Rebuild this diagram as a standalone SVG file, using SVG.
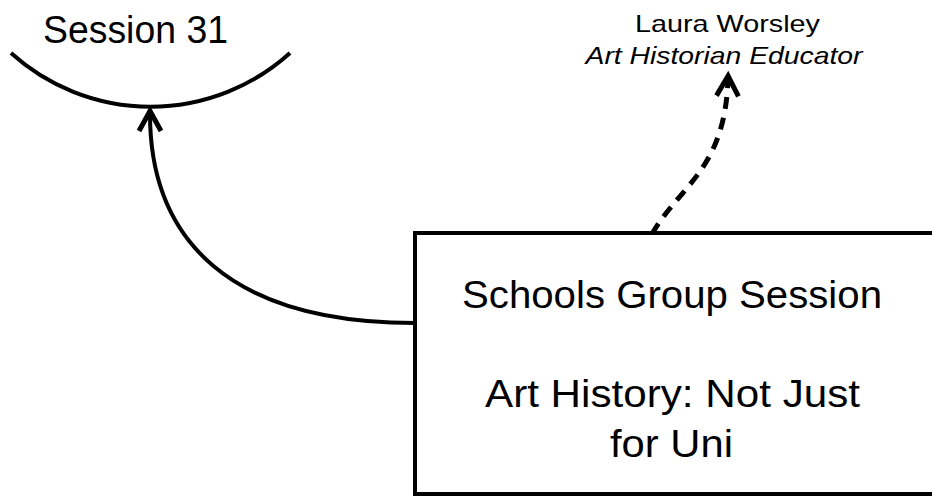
<svg xmlns="http://www.w3.org/2000/svg" width="932" height="496" viewBox="0 0 932 496">
  <style>
    .lbl { font-family: "Liberation Sans", Arial, sans-serif; fill: #000; text-anchor: middle; }
    .big { font-size: 39px; }
    .small { font-size: 24px; }
    .it { font-style: italic; }
    .edge { fill: none; stroke: #000; stroke-width: 4; }
    .dash { stroke-width: 5; stroke-dasharray: 12 9; }
    .box { fill: #fff; stroke: #000; stroke-width: 4; }
  </style>
  <defs>
    <marker id="chevron" markerUnits="userSpaceOnUse" markerWidth="40" markerHeight="40" viewBox="-30 -20 40 40" refX="-3" refY="0" orient="auto" overflow="visible">
      <path d="M-20,-11 L0,0 L-20,11" fill="none" stroke="#000" stroke-width="5" stroke-linejoin="miter"/>
    </marker>
  </defs>

  <!-- Session 31: open arc node -->
  <g id="session31">
    <path class="edge" d="M11,53 A208,208 0 0 0 290,53"/>
    <text class="lbl big" x="135.5" y="43" textLength="185" lengthAdjust="spacingAndGlyphs">Session 31</text>
  </g>

  <!-- Presenter label node -->
  <g id="laura">
    <text class="lbl small" x="727.5" y="31.5" textLength="185" lengthAdjust="spacingAndGlyphs">Laura Worsley</text>
    <text class="lbl small it" x="724" y="64" textLength="277" lengthAdjust="spacingAndGlyphs">Art Historian Educator</text>
  </g>

  <!-- Schools group session box -->
  <g id="schools">
    <rect class="box" x="415" y="233" width="600" height="261"/>
    <text class="lbl big" x="672" y="308" textLength="420" lengthAdjust="spacingAndGlyphs">Schools Group Session</text>
    <text class="lbl big" x="672.5" y="407" textLength="375" lengthAdjust="spacingAndGlyphs">Art History: Not Just</text>
    <text class="lbl big" x="671.5" y="457" textLength="123" lengthAdjust="spacingAndGlyphs">for Uni</text>
  </g>

  <!-- Connectors -->
  <g id="connectors">
    <path class="edge" d="M415,323 C230,323 150,240 150,114" marker-end="url(#chevron)"/>
    <path class="edge dash" d="M652,234 C680,185 725,170 728,79" marker-end="url(#chevron)"/>
  </g>
</svg>
